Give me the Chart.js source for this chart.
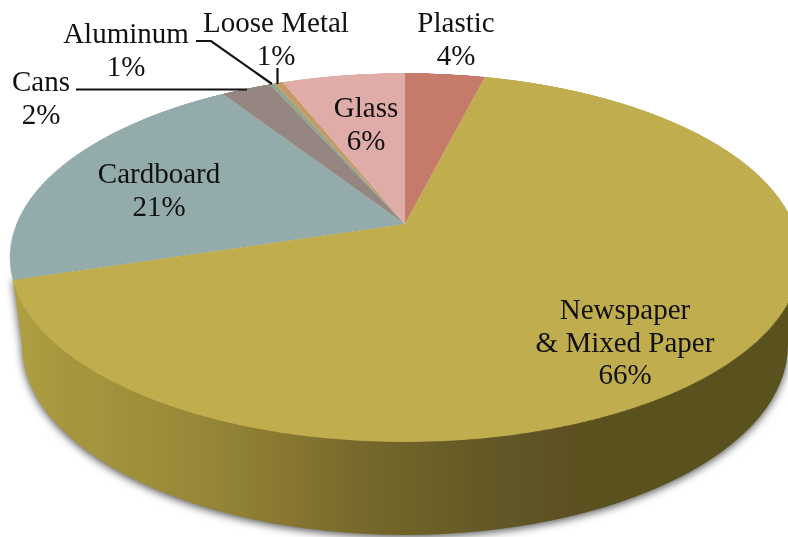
<!DOCTYPE html>
<html>
<head>
<meta charset="utf-8">
<script src="https://cdn.jsdelivr.net/npm/chart.js@4"></script>
<style>
  html, body { margin: 0; padding: 0; background: #fff; overflow: hidden; }
  #stage { position: relative; width: 788px; height: 537px; overflow: hidden; }
  #wall, #pie, #leaders { position: absolute; left: 0; top: 0; }
  #pie { transform-origin: 0 0; }
  .lbl {
    position: absolute; transform: translateX(-50%); text-align: center; white-space: nowrap;
    font-family: "Liberation Serif", serif; font-size: 29px; line-height: 32.5px; color: #111;
  }
</style>
</head>
<body>
<div id="stage">
  <canvas id="wall" width="788" height="537"></canvas>
  <canvas id="pie" width="800" height="800"></canvas>
  <svg id="leaders" width="788" height="537"></svg>
</div>
<script>
// clockwise from 12 o'clock
const categories = ['Plastic', 'Newspaper & Mixed Paper', 'Cardboard', 'Cans', 'Aluminum', 'Loose Metal', 'Glass'];
const shares = [3.9, 66.3, 20.7, 2.45, 0.25, 0.4, 6.0];
const printedPercents = ['4%', '66%', '21%', '2%', '1%', '1%', '6%'];
const sliceColors = ['#C67B6A', '#C0AD4D', '#93ABAB', '#968682', '#8FA68F', '#C49B68', '#E0ACA8'];

// --- LABEL PLACEMENT (text lines, x centre, y of first line top) ---
const labelLines = [['Plastic'], ['Newspaper', '& Mixed Paper'], ['Cardboard'], ['Cans'], ['Aluminum'], ['Loose Metal'], ['Glass']];
const labelX = [456, 625, 159, 41, 126, 276, 366];
const labelY = [6, 293, 157, 65, 17, 6, 91];

// --- PIE TOP FACE: perspective from the flat circle to the tilted ellipse ---
const SIZE = 800, R = SIZE / 2;
const APEX_X = 405, APEX_Y = 224;
const TILT = -0.1816, SCALE_X = 388.6, SCALE_Y = 178.4;

document.getElementById('pie').style.transform = 'matrix3d(' + [
    SCALE_X / R, 0, 0, 0,
    APEX_X * TILT / R, (APEX_Y * TILT + SCALE_Y) / R, 0, TILT / R,
    0, 0, 1, 0,
    APEX_X * (1 - TILT) - SCALE_X, APEX_Y * (1 - TILT) - SCALE_Y, 0, 1 - TILT
].join(',') + ')';

new Chart(document.getElementById('pie').getContext('2d'), {
    type: 'pie',
    data: {
        labels: categories,
        datasets: [{ data: shares, backgroundColor: sliceColors, borderWidth: 0 }]
    },
    options: {
        responsive: false,
        devicePixelRatio: 1,
        animation: false,
        rotation: 0,
        layout: { padding: 0 },
        plugins: { legend: { display: false }, tooltip: { enabled: false } }
    }
});

// --- SIDE WALL ---
function drawWall() {
    const ctx = document.getElementById('wall').getContext('2d');
    const grad = ctx.createLinearGradient(10, 0, 788, 0);
    const stops = [
        [0, '#AFA043'], [0.05, '#A99A40'], [0.08, '#A6953D'], [0.11, '#A4953E'], [0.14, '#A1903C'],
        [0.17, '#9E8F3B'], [0.20, '#9C8B39'], [0.24, '#978737'], [0.27, '#948436'], [0.30, '#8E8035'],
        [0.33, '#8B7B32'], [0.37, '#857530'], [0.45, '#77692C'], [0.55, '#6B5F28'], [0.62, '#625725'],
        [0.68, '#5F5424'], [0.72, '#5F4F24'], [0.74, '#5A521E'], [1, '#5A521E']
    ];
    stops.forEach(s => grad.addColorStop(s[0], s[1]));
    ctx.save();
    ctx.shadowColor = 'rgba(50,50,50,0.85)';
    ctx.shadowBlur = 8;
    ctx.shadowOffsetX = 0;
    ctx.shadowOffsetY = 2;
    ctx.fillStyle = grad;
    ctx.beginPath();
    ctx.moveTo(13, 278);
    ctx.lineTo(22, 345);
    ctx.ellipse(405, 345, 383, 190, 0, Math.PI, 0, true);
    ctx.lineTo(800, 257);
    ctx.closePath();
    ctx.fill();
    ctx.restore();
}
drawWall();

// --- LEADER LINES ---
const leaderPaths = ['76,89.5 247,89.5', '196,41 211,41 272,84', '277.5,68 277.5,84'];
document.getElementById('leaders').innerHTML = leaderPaths.map(p =>
    `<polyline points="${p}" fill="none" stroke="#111" stroke-width="2.2"/>`).join('');

// --- TEXT LABELS ---
const stage = document.getElementById('stage');
categories.forEach((name, i) => {
    const el = document.createElement('div');
    el.className = 'lbl';
    el.style.left = labelX[i] + 'px';
    el.style.top = labelY[i] + 'px';
    el.innerHTML = labelLines[i].concat(printedPercents[i]).join('<br>');
    stage.appendChild(el);
});
</script>
</body>
</html>
